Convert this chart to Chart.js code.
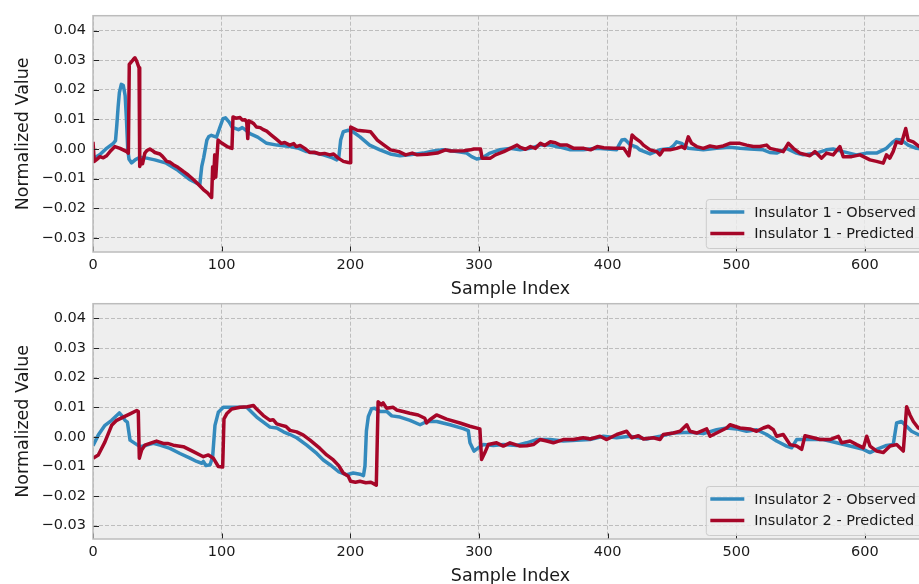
<!DOCTYPE html>
<html>
<head>
<meta charset="utf-8">
<title>Insulator predictions</title>
<script src="https://cdn.jsdelivr.net/npm/chart.js@4.4.1/dist/chart.umd.min.js"></script>
<style>
    html, body { margin: 0; padding: 0; background: #ffffff; overflow: hidden; width: 919px; height: 584px; }
    canvas { position: absolute; left: 0; }
    #chart_top { top: 0; }
    #chart_bottom { top: 288px; }
</style>
</head>
<body>
<canvas id="chart_top" width="938" height="300"></canvas>
<canvas id="chart_bottom" width="938" height="299"></canvas>
<script>
// tick labels
var xTicks = [0, 100, 200, 300, 400, 500, 600];
var yTicks = [-0.03, -0.02, -0.01, 0.00, 0.01, 0.02, 0.03, 0.04];

// Insulator 1 - observed (sample index / value)
var obs1Index = [0, 5.4, 10, 15.8, 17.5, 18.5, 19.5, 20.5, 22, 23.5, 25, 26, 27, 28, 30, 33, 36.5, 41.7, 48, 57,
    66, 75, 83, 84.5, 86, 88.5, 90, 92, 96, 98.7, 101, 103, 106, 108, 110, 113, 116, 118, 122, 128,
    135, 143, 153, 160, 166, 172, 179, 185, 189.5, 191, 192.5, 194.5, 198.5, 202, 207.5, 215, 223, 231, 238.6, 246,
    256.7, 264.5, 272, 282.7, 290.4, 294.3, 298.2, 302, 308.6, 316, 324, 332, 340, 347.4, 355, 363, 371, 381, 391.5, 402,
    407, 409, 411, 413.5, 417.4, 422.6, 425, 433, 440.7, 448.5, 451, 453.6, 457.5, 462.7, 474.4, 484.7, 495, 502.8, 510.6, 521,
    526, 531.3, 539, 546.8, 552, 562.4, 570, 575.3, 583, 593.4, 601, 609, 616.7, 621.9, 624.5, 628.4, 633.6, 640, 649];
var obs1Value = [-0.0033, -0.0019, 0.0, 0.0019, 0.0028, 0.008, 0.014, 0.019, 0.0218, 0.0215, 0.018, 0.01, 0.0, -0.0035, -0.0047, -0.0036, -0.0028, -0.0031, -0.0037, -0.0048,
    -0.0072, -0.0103, -0.0121, -0.006, -0.003, 0.003, 0.0042, 0.0046, 0.004, 0.0074, 0.0102, 0.0105, 0.009, 0.0074, 0.007, 0.0065, 0.0072, 0.0066, 0.0052, 0.004,
    0.0019, 0.0013, 0.0008, 0.0002, -0.0009, -0.0013, -0.002, -0.0028, -0.0037, -0.003, 0.003, 0.0058, 0.0063, 0.0058, 0.0041, 0.0013, -0.0003, -0.0017, -0.0023, -0.002,
    -0.0014, -0.0007, -0.0003, -0.0009, -0.0014, -0.0026, -0.0034, -0.0031, -0.0014, -0.0003, 0.0002, -0.0003, 0.0002, 0.0013, 0.0013, 0.0006, -0.0003, -0.0003, 0.0002, -0.0001,
    -0.0003, 0.0015, 0.003, 0.0032, 0.0015, 0.0006, -0.0003, -0.0017, -0.0003, 0.0002, 0.001, 0.0024, 0.0019, 0.0002, -0.0003, 0.0002, 0.0006, 0.0002, 0.0, -0.0003,
    -0.0012, -0.0014, 0.0002, -0.0014, -0.002, -0.0014, -0.0003, 0.0, -0.0009, -0.002, -0.0014, -0.0014, 0.0002, 0.0024, 0.0032, 0.003, 0.0013, 0.0002, -0.0003];

// Insulator 1 - predicted
var pred1Index = [0, 1, 3, 5.4, 8, 10.6, 14, 17, 21, 26.2, 27.5, 28.2, 31.3, 32.6, 33.9, 35.8, 36.3, 37.8, 38.5, 40.3,
    42, 44.2, 46, 48.1, 52, 54, 57.3, 60, 62.4, 66, 70.2, 74, 78, 82, 85.8, 89, 92.2, 93, 93.8, 94.6,
    95.4, 96.2, 97.2, 100.3, 104.2, 106, 108, 108.8, 111, 114.3, 116, 118.2, 119.5, 120.3, 121, 123, 125, 127, 130, 132,
    135, 138.6, 142, 146.4, 149, 152.9, 156, 158, 161, 164.6, 168.5, 172, 176.3, 180, 184, 187, 190.6, 194.6, 198.5, 199.8,
    200.3, 205.4, 210.6, 215.8, 221, 226.2, 231.3, 237.8, 243, 248.1, 252, 259.8, 267.6, 274, 277.9, 288.3, 293.4, 296, 301.2, 302.4,
    308.9, 312.8, 319.3, 324.4, 329.6, 332.2, 336.1, 340, 343.9, 347.8, 351, 355.5, 359.4, 363.3, 368.5, 373.7, 381.5, 386.7, 391.9, 397,
    404.8, 412.6, 416.5, 419, 421.6, 425.5, 427.8, 433, 438.1, 440.7, 443.3, 448.5, 453.6, 457.5, 460, 462.7, 465.3, 469.2, 474.4, 479.5,
    484.7, 489.9, 495, 502.8, 508, 513.2, 518.3, 523.5, 526.1, 531.3, 536.5, 540.4, 544.3, 549.4, 557.2, 561.1, 566.3, 570.1, 575.3, 580.5,
    583.1, 589.6, 596.1, 603.9, 609, 614.2, 616.7, 619.3, 621.9, 624.5, 628.4, 631.7, 633.6, 637.5, 642.2, 649];
var pred1Value = [0.0024, -0.0042, -0.0035, -0.0026, -0.003, -0.0023, -0.0005, 0.0008, 0.0002, -0.0009, -0.0014, 0.0286, 0.0302, 0.0308, 0.0297, 0.0274, -0.0059, -0.0037, -0.005, -0.0014,
    -0.0005, 0.0, -0.0005, -0.0012, -0.0017, -0.0025, -0.0042, -0.0045, -0.0053, -0.0062, -0.0076, -0.0088, -0.0103, -0.012, -0.0137, -0.0148, -0.0164, -0.006, -0.01, -0.002,
    -0.0095, -0.004, 0.003, 0.0019, 0.0008, 0.0005, 0.0002, 0.0108, 0.0104, 0.0106, 0.0098, 0.0099, 0.009, 0.0035, 0.0095, 0.0091, 0.0085, 0.0074, 0.0072, 0.0066,
    0.006, 0.0047, 0.0035, 0.0019, 0.0022, 0.0013, 0.0018, 0.0008, 0.0012, 0.0002, -0.0012, -0.0011, -0.0017, -0.0015, -0.002, -0.0017, -0.0031, -0.0042, -0.0046, -0.0047,
    0.0074, 0.0063, 0.0061, 0.0058, 0.003, 0.0013, -0.0003, -0.0009, -0.002, -0.0014, -0.002, -0.0018, -0.0014, -0.0003, -0.0007, -0.0006, -0.0003, 0.0, 0.0, -0.0031,
    -0.0031, -0.002, -0.0009, 0.0002, 0.0013, 0.0005, -0.0001, 0.0008, 0.0002, 0.0019, 0.0012, 0.0024, 0.0021, 0.0013, 0.0013, 0.0002, 0.0002, -0.0003, 0.0008, 0.0004,
    0.0002, 0.0002, -0.0023, 0.0047, 0.0036, 0.0024, 0.0013, -0.0003, -0.0009, -0.002, -0.0003, -0.0003, 0.0002, 0.0008, 0.0002, 0.0041, 0.0019, 0.0008, 0.0002, 0.001,
    0.0006, 0.001, 0.0019, 0.0019, 0.0013, 0.0008, 0.0008, 0.0013, 0.0002, -0.0003, -0.0009, 0.0019, 0.0002, -0.0014, -0.0023, -0.0009, -0.0031, -0.0014, -0.002, 0.0008,
    -0.0026, -0.0026, -0.002, -0.0037, -0.0042, -0.0048, -0.002, -0.0031, -0.0009, 0.0024, 0.0019, 0.0069, 0.003, 0.0024, 0.0008, 0.0005];

// Insulator 2 - observed
var obs2Index = [0, 4.1, 9.3, 14.5, 18.4, 20.5, 22.3, 24.9, 26.7, 28.8, 32.6, 36.5, 41.7, 46.9, 52, 59.8, 67.6, 75.4, 80.6, 84.5,
    85.8, 87.8, 91, 93, 94.8, 97.4, 101.3, 106.5, 114.3, 119.5, 123.4, 127.2, 132.4, 137.6, 142.8, 148, 153.1, 158.3, 166.1, 173.9,
    179, 184.2, 190.7, 197.2, 202.3, 207.5, 210.2, 211.4, 212.5, 214, 216.5, 219, 223.1, 228.3, 232.2, 238.6, 246.4, 254.2, 259.4, 267.1,
    277.5, 287.8, 291.7, 293, 296.1, 299.5, 303.4, 311.2, 318.9, 329.3, 337.1, 344.8, 355.2, 365.5, 375.9, 386.3, 396.7, 407, 417.4, 423.9,
    430.3, 440.7, 451.1, 464, 474.4, 484.7, 492.5, 500.3, 508, 515.8, 523.6, 531.3, 539.1, 543, 546.9, 557.2, 567.6, 578, 588.4, 598.7,
    603.9, 609.1, 616.8, 622, 624.6, 628.4, 632.3, 636.2, 641.4, 649];
var obs2Value = [-0.003, 0.0006, 0.0039, 0.0056, 0.0072, 0.0081, 0.0072, 0.0056, 0.005, -0.0011, -0.0022, -0.0033, -0.0028, -0.0022, -0.0028, -0.0039, -0.0056, -0.0072, -0.0083, -0.0089,
    -0.0083, -0.0097, -0.0094, -0.0067, 0.0039, 0.0083, 0.01, 0.01, 0.01, 0.01, 0.0083, 0.0067, 0.005, 0.0033, 0.003, 0.0017, 0.0008, -0.0003, -0.0028, -0.0056,
    -0.0078, -0.0094, -0.0117, -0.0128, -0.0122, -0.0126, -0.0131, -0.0098, 0.002, 0.0069, 0.0095, 0.0097, 0.0086, 0.0086, 0.0071, 0.0067, 0.0056, 0.0041, 0.0052, 0.0052,
    0.0041, 0.0028, 0.0021, -0.002, -0.0048, -0.0037, -0.0026, -0.0029, -0.0026, -0.0029, -0.002, -0.0009, -0.0009, -0.0014, -0.0011, -0.0009, 0.0002, -0.0003, 0.0002, -0.0003,
    -0.0007, 0.0002, 0.0013, 0.0016, 0.0011, 0.0024, 0.003, 0.0027, 0.0019, 0.0024, 0.0008, -0.0014, -0.0031, -0.0037, -0.0009, -0.0009, -0.0009, -0.002, -0.0031, -0.0042,
    -0.0053, -0.0042, -0.0029, -0.0026, 0.0047, 0.0052, 0.0036, 0.0019, 0.0008, 0.0005];

// Insulator 2 - predicted
var pred2Index = [0, 4.1, 9.3, 14.5, 18.4, 23.5, 28.8, 34, 35.2, 36, 37.8, 40.3, 44.2, 49.4, 54.6, 58, 62.4, 70.2, 78, 85.8,
    89.7, 93.5, 97.4, 100.8, 101.8, 103.9, 107.8, 114.3, 120, 124.7, 127.2, 132.4, 137.6, 140, 142.8, 146.7, 150, 153.1, 158.3, 163.5,
    168.7, 176.4, 181.6, 186.8, 191, 194.5, 198.4, 200.2, 204, 207.5, 212, 216, 220.2, 221.6, 224.2, 225.5, 228.1, 233.3, 235.9, 241,
    246.2, 252.7, 257.9, 259.2, 261.8, 267, 274.8, 285.2, 292.9, 300.7, 302, 304.6, 307.2, 313.7, 318.9, 324.1, 331.9, 337.1, 342.3, 347.4,
    352.6, 357.8, 365.5, 373.3, 381.1, 386.3, 394.1, 399.3, 407.1, 414.8, 418.7, 423.9, 427.8, 435.6, 440.7, 443.3, 451.1, 456.3, 461.5, 464,
    469.2, 477, 479.6, 484.7, 492.5, 495.1, 502.9, 510.6, 515.8, 521, 524.9, 528.8, 531.4, 536.5, 541.7, 546.9, 550.8, 553.4, 559.9, 565.1,
    572.8, 579.3, 581.9, 588.4, 593.6, 598.8, 601.4, 603.9, 609.1, 614.3, 619.5, 624.6, 629.8, 632.4, 635, 637.6, 641.4, 649];
var pred2Value = [-0.0072, -0.0061, -0.0017, 0.0039, 0.0056, 0.0067, 0.0078, 0.0089, 0.0086, -0.0072, -0.0044, -0.0028, -0.0022, -0.0014, -0.0022, -0.0022, -0.0028, -0.0033, -0.005, -0.0067,
    -0.0061, -0.0072, -0.01, -0.0102, 0.0061, 0.0078, 0.0094, 0.01, 0.0102, 0.0106, 0.0094, 0.0072, 0.0056, 0.0058, 0.0044, 0.0039, 0.0035, 0.0022, 0.0017, 0.0006,
    -0.0011, -0.0039, -0.0061, -0.0078, -0.0097, -0.0122, -0.0133, -0.015, -0.0153, -0.015, -0.0155, -0.0153, -0.0163, 0.0119, 0.0108, 0.0115, 0.0097, 0.01, 0.0091, 0.0086,
    0.008, 0.0074, 0.0063, 0.0047, 0.0058, 0.0074, 0.006, 0.0047, 0.0036, 0.0027, -0.0076, -0.0053, -0.0026, -0.002, -0.0031, -0.002, -0.0031, -0.003, -0.0026, -0.0009,
    -0.0014, -0.002, -0.0009, -0.0009, -0.0003, -0.0007, 0.0002, -0.0009, 0.0008, 0.0019, -0.0003, 0.0004, -0.0007, -0.0003, -0.0009, 0.0008, 0.0013, 0.0019, 0.0041, 0.0019,
    0.0013, 0.0027, 0.0002, 0.0013, 0.003, 0.0041, 0.003, 0.0027, 0.0019, 0.003, 0.0036, 0.0024, 0.0002, 0.0008, -0.0026, -0.0031, -0.0042, 0.0004, -0.0003, -0.0009,
    -0.0009, 0.0002, -0.002, -0.0014, -0.0026, -0.0037, 0.0002, -0.0031, -0.0048, -0.0053, -0.0031, -0.0026, -0.0048, 0.0102, 0.0074, 0.0052, 0.003, 0.0015];

var blue = '#348ABD';
var red = '#A60628';

Chart.defaults.font.family = '"DejaVu Sans", sans-serif';
Chart.defaults.color = '#1a1a1a';

function toPoints(xs, ys) {
    return xs.map(function (x, i) {
        return { x: x, y: ys[i] };
    });
}

function fmtY(v) {
    var s = Math.abs(v).toFixed(2);
    return v < -1e-9 ? '\u2212' + s : s;
}

// plot background, inward ticks and frame
var axesFrame = {
    id: 'axesFrame',
    beforeDraw: function (chart) {
        var a = chart.chartArea, ctx = chart.ctx;
        ctx.save();
        ctx.fillStyle = '#eeeeee';
        ctx.fillRect(a.left, a.top, a.right - a.left, a.bottom - a.top);
        ctx.restore();
    },
    afterDatasetsDraw: function (chart) {
        var a = chart.chartArea, ctx = chart.ctx;
        var xs = chart.scales.x, ys = chart.scales.y;
        ctx.save();
        ctx.strokeStyle = '#222222';
        ctx.lineWidth = 1;
        ctx.beginPath();
        yTicks.forEach(function (v) {
            var py = Math.round(ys.getPixelForValue(v)) + 0.5;
            ctx.moveTo(a.left, py);
            ctx.lineTo(a.left + 6, py);
        });
        xTicks.forEach(function (v) {
            var px = Math.round(xs.getPixelForValue(v)) + 0.5;
            ctx.moveTo(px, a.bottom);
            ctx.lineTo(px, a.bottom - 5.5);
        });
        ctx.stroke();
        ctx.strokeStyle = '#bcbcbc';
        ctx.lineWidth = 1.5;
        ctx.strokeRect(a.left, a.top, a.right - a.left, a.bottom - a.top);
        ctx.restore();
    }
};

// matplotlib-like legend in the lower right corner
var legendBox = {
    id: 'legendBox',
    afterDatasetsDraw: function (chart) {
        var a = chart.chartArea, ctx = chart.ctx;
        var sets = chart.data.datasets;
        ctx.save();
        ctx.font = '14.5px "DejaVu Sans"';
        var textW = 0;
        sets.forEach(function (d) {
            textW = Math.max(textW, ctx.measureText(d.label).width);
        });
        var w = 48 + textW + 6;
        var h = 49;
        var right = a.right - 6, bottom = a.bottom - 3.5;
        var left = right - w, top = bottom - h;
        ctx.beginPath();
        if (ctx.roundRect) {
            ctx.roundRect(left, top, w, h, 3);
        } else {
            ctx.rect(left, top, w, h);
        }
        ctx.fillStyle = 'rgba(238, 238, 238, 0.8)';
        ctx.fill();
        ctx.strokeStyle = '#cccccc';
        ctx.lineWidth = 1;
        ctx.stroke();
        ctx.textBaseline = 'middle';
        ctx.textAlign = 'left';
        sets.forEach(function (d, i) {
            var y = top + 12.5 + i * 21.6;
            ctx.strokeStyle = d.borderColor;
            ctx.lineWidth = 3.5;
            ctx.beginPath();
            ctx.moveTo(left + 4, y);
            ctx.lineTo(left + 38, y);
            ctx.stroke();
            ctx.fillStyle = '#1a1a1a';
            ctx.fillText(d.label, left + 48, y + 1);
        });
        ctx.restore();
    }
};

function makeChart(id, name, obsX, obsY, predX, predY, yMin, axisHeight) {
    var ctx = document.getElementById(id).getContext('2d');
    return new Chart(ctx, {
        type: 'line',
        data: {
            datasets: [{
                label: name + ' - Observed',
                data: toPoints(obsX, obsY),
                borderColor: blue,
                borderWidth: 3.5,
                order: 1
            }, {
                label: name + ' - Predicted',
                data: toPoints(predX, predY),
                borderColor: red,
                borderWidth: 3.5,
                order: 0
            }]
        },
        options: {
            responsive: false,
            animation: false,
            layout: { padding: { top: 12, right: 10, bottom: 0, left: 0 } },
            elements: {
                point: { radius: 0 },
                line: { tension: 0, borderJoinStyle: 'round', borderCapStyle: 'butt' }
            },
            plugins: {
                legend: { display: false },
                tooltip: { enabled: false }
            },
            scales: {
                x: {
                    type: 'linear',
                    min: 0,
                    max: 649,
                    afterBuildTicks: function (scale) {
                        scale.ticks = xTicks.map(function (v) { return { value: v }; });
                    },
                    afterFit: function (scale) {
                        scale.height = axisHeight;
                    },
                    grid: { color: '#bdbdbd', lineWidth: 1, drawTicks: false },
                    border: { display: false, dash: [4, 2] },
                    ticks: {
                        padding: 5,
                        font: { size: 14.5 },
                        maxRotation: 0,
                        autoSkip: false,
                        callback: function (v) { return String(v); }
                    },
                    title: { display: true, text: 'Sample Index', font: { size: 17.5 }, padding: 0 }
                },
                y: {
                    type: 'linear',
                    min: yMin,
                    max: 0.045,
                    afterBuildTicks: function (scale) {
                        scale.ticks = yTicks.map(function (v) { return { value: v }; });
                    },
                    afterFit: function (scale) {
                        scale.width = 93;
                    },
                    grid: { color: '#bdbdbd', lineWidth: 1, drawTicks: false },
                    border: { display: false, dash: [4, 2] },
                    ticks: {
                        padding: 7,
                        font: { size: 14.5 },
                        callback: fmtY
                    },
                    title: { display: true, text: 'Normalized Value', font: { size: 17.5 }, padding: { top: 13, bottom: 0 } }
                }
            }
        },
        plugins: [axesFrame, legendBox]
    });
}

makeChart('chart_top', 'Insulator 1', obs1Index, obs1Value, pred1Index, pred1Value, -0.0348, 48);
makeChart('chart_bottom', 'Insulator 2', obs2Index, obs2Value, pred2Index, pred2Value, -0.0345, 48);
</script>
</body>
</html>
